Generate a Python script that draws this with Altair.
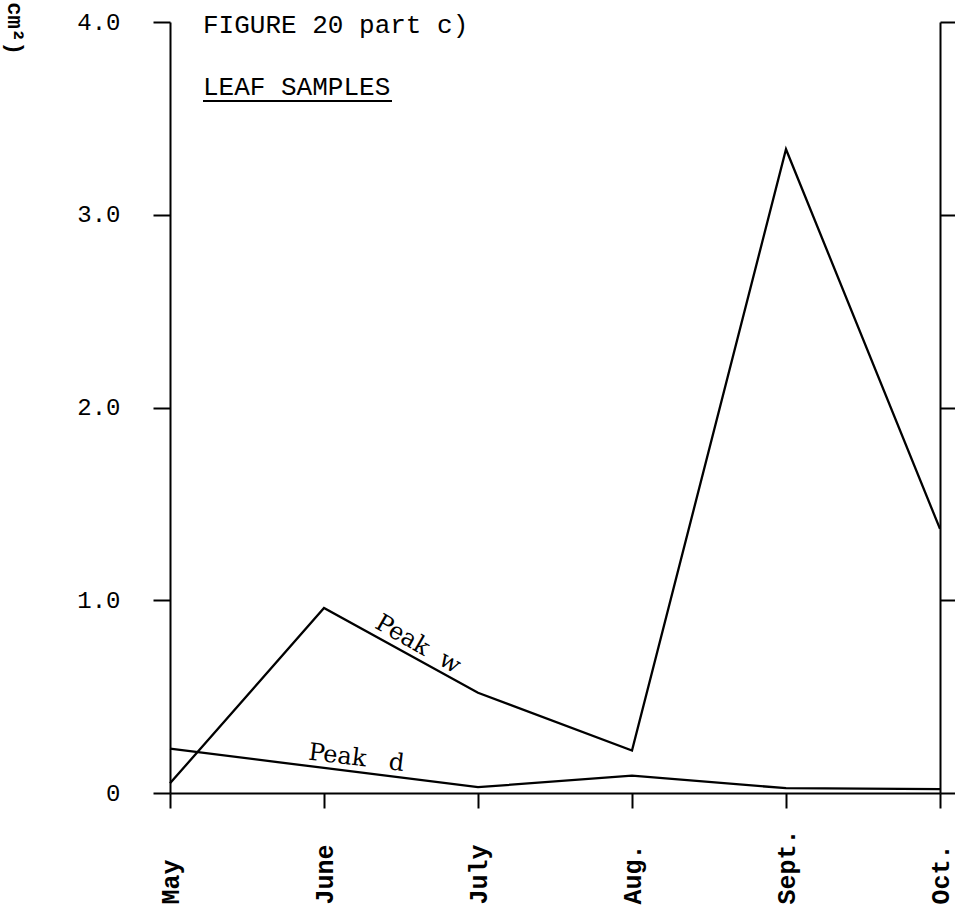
import json
import altair as alt
import pandas as pd

# Monthly peak areas for the leaf samples
months = ["May", "June", "July", "Aug.", "Sept.", "Oct."]
peak_w = [0.05, 0.96, 0.52, 0.22, 3.34, 1.37]
peak_d = [0.23, 0.13, 0.03, 0.09, 0.025, 0.02]

y_ticks = [0, 1, 2, 3, 4]
y_tick_labels = ["0", "1.0", "2.0", "3.0", "4.0"]

rows = []
for i, m in enumerate(months):
    rows.append({"idx": i, "month": m, "series": "Peak w", "value": peak_w[i]})
    rows.append({"idx": i, "month": m, "series": "Peak d", "value": peak_d[i]})
df = pd.DataFrame(rows)

TYPE = "Liberation Mono"
SERIF = "DejaVu Serif"
NBSP = "\u00a0"

month_expr = json.dumps(months) + "[datum.value]"
ylab_expr = json.dumps(y_tick_labels) + "[indexof(" + json.dumps(y_ticks) + ", datum.value)]"

x_scale = alt.Scale(domain=[0, len(months) - 1], nice=False, zero=False)
y_scale = alt.Scale(domain=[0, 4], nice=False)

x_enc = alt.X(
    "idx:Q",
    scale=x_scale,
    axis=alt.Axis(
        values=list(range(len(months))),
        labelExpr=month_expr,
        title=None,
        labelAngle=270,
        labelAlign="left",
        labelBaseline="middle",
        labelPadding=96,
        labelFont=TYPE,
        labelFontWeight="bold",
        labelFontSize=25,
        labelColor="black",
        tickSize=15,
        grid=False,
    ),
)

lines = alt.Chart(df).mark_line(color="black", strokeWidth=2.3).encode(
    x=x_enc,
    y=alt.Y(
        "value:Q",
        scale=y_scale,
        axis=alt.Axis(
            values=y_ticks,
            labelExpr=ylab_expr,
            title=None,
            labelFont=TYPE,
            labelFontSize=24,
            labelColor="black",
            labelPadding=33,
            tickSize=17,
            grid=False,
        ),
    ),
    detail="series:N",
)

# Series labels set along their lines (non-breaking spaces keep the wide gap)
w_label = alt.Chart(pd.DataFrame({"idx": [1.61], "value": [0.77], "t": ["Peak" + NBSP * 2 + "w"]})).mark_text(
    font=SERIF, fontSize=24, angle=30, color="black"
).encode(x=alt.X("idx:Q", scale=x_scale), y=alt.Y("value:Q", scale=y_scale), text="t:N")

d_label = alt.Chart(pd.DataFrame({"idx": [1.21], "value": [0.18], "t": ["Peak" + NBSP * 3 + "d"]})).mark_text(
    font=SERIF, fontSize=24, angle=7, color="black"
).encode(x=alt.X("idx:Q", scale=x_scale), y=alt.Y("value:Q", scale=y_scale), text="t:N")

main = alt.layer(lines, w_label, d_label)

# Mirror axis on the right-hand side (ticks only)
right_axis = alt.Chart(df).mark_line(strokeOpacity=0).encode(
    x=alt.X("idx:Q", scale=x_scale),
    y=alt.Y(
        "value:Q",
        scale=y_scale,
        axis=alt.Axis(
            orient="right",
            values=y_ticks,
            labels=False,
            title=None,
            tickSize=15,
            grid=False,
        ),
    ),
    detail="series:N",
)

fig_title = alt.Chart(pd.DataFrame({"t": ["FIGURE 20 part c)"]})).mark_text(
    font=TYPE, fontSize=26, align="left", baseline="alphabetic", color="black"
).encode(x=alt.value(33), y=alt.value(11), text="t:N")

sub_title = alt.Chart(pd.DataFrame({"t": ["LEAF SAMPLES"]})).mark_text(
    font=TYPE, fontSize=26, align="left", baseline="alphabetic", color="black"
).encode(x=alt.value(33), y=alt.value(73), text="t:N")

underline = alt.Chart(pd.DataFrame({"t": [0]})).mark_rule(color="black", strokeWidth=1.8).encode(
    x=alt.value(33), x2=alt.value(222), y=alt.value(79)
)

unit_title = alt.Chart(pd.DataFrame({"t": ["(cm²)"]})).mark_text(
    font=TYPE, fontSize=22, fontWeight="bold", angle=90, align="right", baseline="middle", color="black"
).encode(x=alt.value(-155), y=alt.value(33), text="t:N")

chart = (
    alt.layer(main, right_axis, fig_title, sub_title, underline, unit_title)
    .resolve_scale(y="independent")
    .properties(
        width=770,
        height=771,
        padding={"left": 170, "top": 22, "right": 15, "bottom": 125},
        autosize=alt.AutoSizeParams(type="none"),
        background="white",
    )
    .configure_view(stroke="transparent")
    .configure_axis(domainColor="black", domainWidth=2, tickColor="black", tickWidth=2)
)

chart.save("out.html", embed_options={"renderer": "svg", "actions": False})
